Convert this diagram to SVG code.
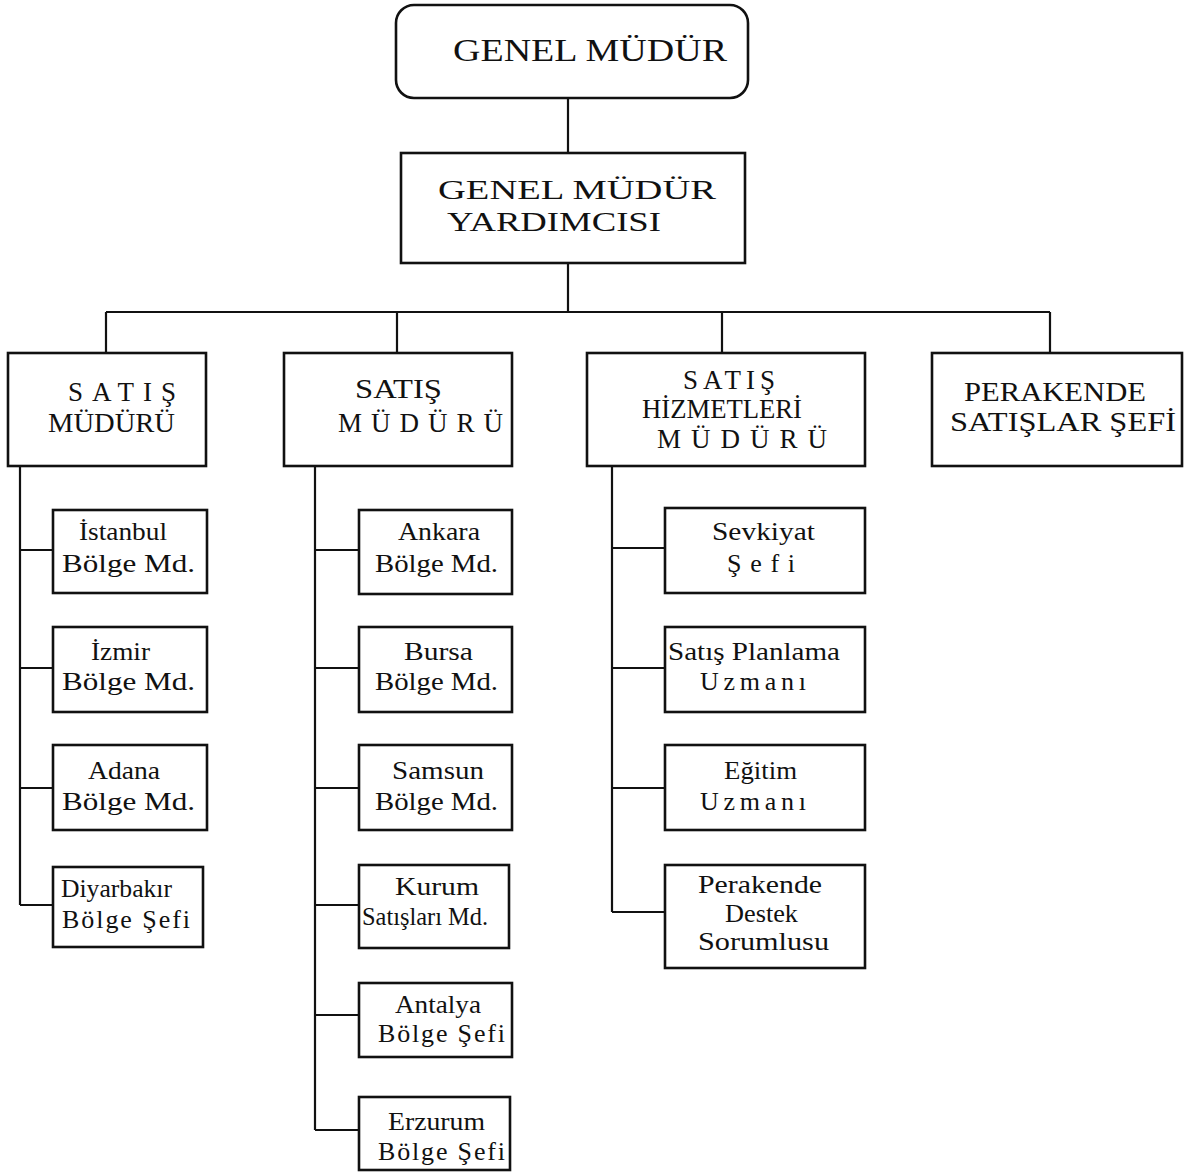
<svg xmlns="http://www.w3.org/2000/svg" width="1195" height="1174" viewBox="0 0 1195 1174">
<style>
.box{fill:#fff;stroke:#111;stroke-width:2.6}
.ln{fill:none;stroke:#111;stroke-width:2.2}
text{font-family:"Liberation Serif","Times New Roman",serif;fill:#111}
.t1{font-size:32px}
.t1b{font-size:27px}
.t2{font-size:27px}
.t3{font-size:26px}
</style>
<rect width="1195" height="1174" fill="#fff"/>
<g id="connectors">
<path class="ln" d="M568 98V153M568 263V312M106 312H1050M106 312V353M397 312V353M722 312V353M1050 312V353"/>
<path class="ln" d="M20 466V905M20 550H53M20 668H53M20 788H53M20 905H53"/>
<path class="ln" d="M315 462V1130M315 550H359M315 668H359M315 788H359M315 905H359M315 1015H359M315 1130H359"/>
<path class="ln" d="M612 466V912M612 548H665M612 668H665M612 788H665M612 912H665"/>
</g>
<g id="genel-mudur">
<rect class="box" x="396" y="5" width="352" height="93" rx="18"/>
<text class="t1" x="453" y="61" textLength="274" lengthAdjust="spacingAndGlyphs">GENEL MÜDÜR</text>
</g>
<g id="gm-yardimcisi">
<rect class="box" x="401" y="153" width="344" height="110"/>
<text class="t1b" x="438" y="199" textLength="278" lengthAdjust="spacingAndGlyphs">GENEL  MÜDÜR</text>
<text class="t1b" x="447" y="231" textLength="214" lengthAdjust="spacingAndGlyphs">YARDIMCISI</text>
</g>
<g id="satis-mudur-1">
<rect class="box" x="8" y="353" width="198" height="113"/>
<text class="t2" x="68" y="401" textLength="108" lengthAdjust="spacing">SATIŞ</text>
<text class="t2" x="48" y="432" textLength="127" lengthAdjust="spacingAndGlyphs">MÜDÜRÜ</text>
</g>
<g id="satis-mudur-2">
<rect class="box" x="284" y="353" width="228" height="113"/>
<text class="t2" x="355" y="398" textLength="87" lengthAdjust="spacingAndGlyphs">SATIŞ</text>
<text class="t2" x="338" y="432" textLength="165" lengthAdjust="spacing">MÜDÜRÜ</text>
</g>
<g id="satis-hizmetleri">
<rect class="box" x="587" y="353" width="278" height="113"/>
<text class="t2" x="683" y="389" textLength="92" lengthAdjust="spacing">SATIŞ</text>
<text class="t2" x="642" y="418" textLength="160" lengthAdjust="spacingAndGlyphs">HİZMETLERİ</text>
<text class="t2" x="657" y="448" textLength="170" lengthAdjust="spacing">MÜDÜRÜ</text>
</g>
<g id="perakende-satislar">
<rect class="box" x="932" y="353" width="250" height="113"/>
<text class="t2" x="964" y="401" textLength="182" lengthAdjust="spacingAndGlyphs">PERAKENDE</text>
<text class="t2" x="950" y="431" textLength="226" lengthAdjust="spacingAndGlyphs">SATIŞLAR ŞEFİ</text>
</g>
<g id="istanbul">
<rect class="box" x="53" y="510" width="154" height="83"/>
<text class="t3" x="79" y="540" textLength="88" lengthAdjust="spacingAndGlyphs">İstanbul</text>
<text class="t3" x="62" y="572" textLength="133" lengthAdjust="spacingAndGlyphs">Bölge Md.</text>
</g>
<g id="izmir">
<rect class="box" x="53" y="627" width="154" height="85"/>
<text class="t3" x="91" y="660" textLength="59" lengthAdjust="spacingAndGlyphs">İzmir</text>
<text class="t3" x="62" y="690" textLength="133" lengthAdjust="spacingAndGlyphs">Bölge Md.</text>
</g>
<g id="adana">
<rect class="box" x="53" y="745" width="154" height="85"/>
<text class="t3" x="88" y="779" textLength="72" lengthAdjust="spacingAndGlyphs">Adana</text>
<text class="t3" x="62" y="810" textLength="133" lengthAdjust="spacingAndGlyphs">Bölge Md.</text>
</g>
<g id="diyarbakir">
<rect class="box" x="53" y="867" width="150" height="80"/>
<text class="t3" x="61" y="897" textLength="111" lengthAdjust="spacingAndGlyphs">Diyarbakır</text>
<text class="t3" x="62" y="928" textLength="128" lengthAdjust="spacing">Bölge Şefi</text>
</g>
<g id="ankara">
<rect class="box" x="359" y="510" width="153" height="84"/>
<text class="t3" x="398" y="540" textLength="82" lengthAdjust="spacingAndGlyphs">Ankara</text>
<text class="t3" x="375" y="572" textLength="123" lengthAdjust="spacingAndGlyphs">Bölge Md.</text>
</g>
<g id="bursa">
<rect class="box" x="359" y="627" width="153" height="85"/>
<text class="t3" x="404" y="660" textLength="69" lengthAdjust="spacingAndGlyphs">Bursa</text>
<text class="t3" x="375" y="690" textLength="123" lengthAdjust="spacingAndGlyphs">Bölge Md.</text>
</g>
<g id="samsun">
<rect class="box" x="359" y="745" width="153" height="85"/>
<text class="t3" x="392" y="779" textLength="92" lengthAdjust="spacingAndGlyphs">Samsun</text>
<text class="t3" x="375" y="810" textLength="123" lengthAdjust="spacingAndGlyphs">Bölge Md.</text>
</g>
<g id="kurum">
<rect class="box" x="359" y="865" width="150" height="83"/>
<text class="t3" x="395" y="895" textLength="84" lengthAdjust="spacingAndGlyphs">Kurum</text>
<text class="t3" x="362" y="925" textLength="126" lengthAdjust="spacingAndGlyphs">Satışları Md.</text>
</g>
<g id="antalya">
<rect class="box" x="359" y="983" width="153" height="74"/>
<text class="t3" x="395" y="1013" textLength="86" lengthAdjust="spacingAndGlyphs">Antalya</text>
<text class="t3" x="378" y="1042" textLength="127" lengthAdjust="spacing">Bölge Şefi</text>
</g>
<g id="erzurum">
<rect class="box" x="359" y="1097" width="151" height="73"/>
<text class="t3" x="388" y="1130" textLength="97" lengthAdjust="spacingAndGlyphs">Erzurum</text>
<text class="t3" x="378" y="1160" textLength="127" lengthAdjust="spacing">Bölge Şefi</text>
</g>
<g id="sevkiyat">
<rect class="box" x="665" y="508" width="200" height="85"/>
<text class="t3" x="712" y="540" textLength="103" lengthAdjust="spacingAndGlyphs">Sevkiyat</text>
<text class="t3" x="727" y="572" textLength="68" lengthAdjust="spacing">Şefi</text>
</g>
<g id="satis-planlama">
<rect class="box" x="665" y="627" width="200" height="85"/>
<text class="t3" x="668" y="660" textLength="172" lengthAdjust="spacingAndGlyphs">Satış Planlama</text>
<text class="t3" x="700" y="690" textLength="106" lengthAdjust="spacing">Uzmanı</text>
</g>
<g id="egitim">
<rect class="box" x="665" y="745" width="200" height="85"/>
<text class="t3" x="724" y="779" textLength="73" lengthAdjust="spacingAndGlyphs">Eğitim</text>
<text class="t3" x="700" y="810" textLength="106" lengthAdjust="spacing">Uzmanı</text>
</g>
<g id="perakende-destek">
<rect class="box" x="665" y="865" width="200" height="103"/>
<text class="t3" x="698" y="893" textLength="124" lengthAdjust="spacingAndGlyphs">Perakende</text>
<text class="t3" x="725" y="922" textLength="73" lengthAdjust="spacingAndGlyphs">Destek</text>
<text class="t3" x="698" y="950" textLength="131" lengthAdjust="spacingAndGlyphs">Sorumlusu</text>
</g>
</svg>
